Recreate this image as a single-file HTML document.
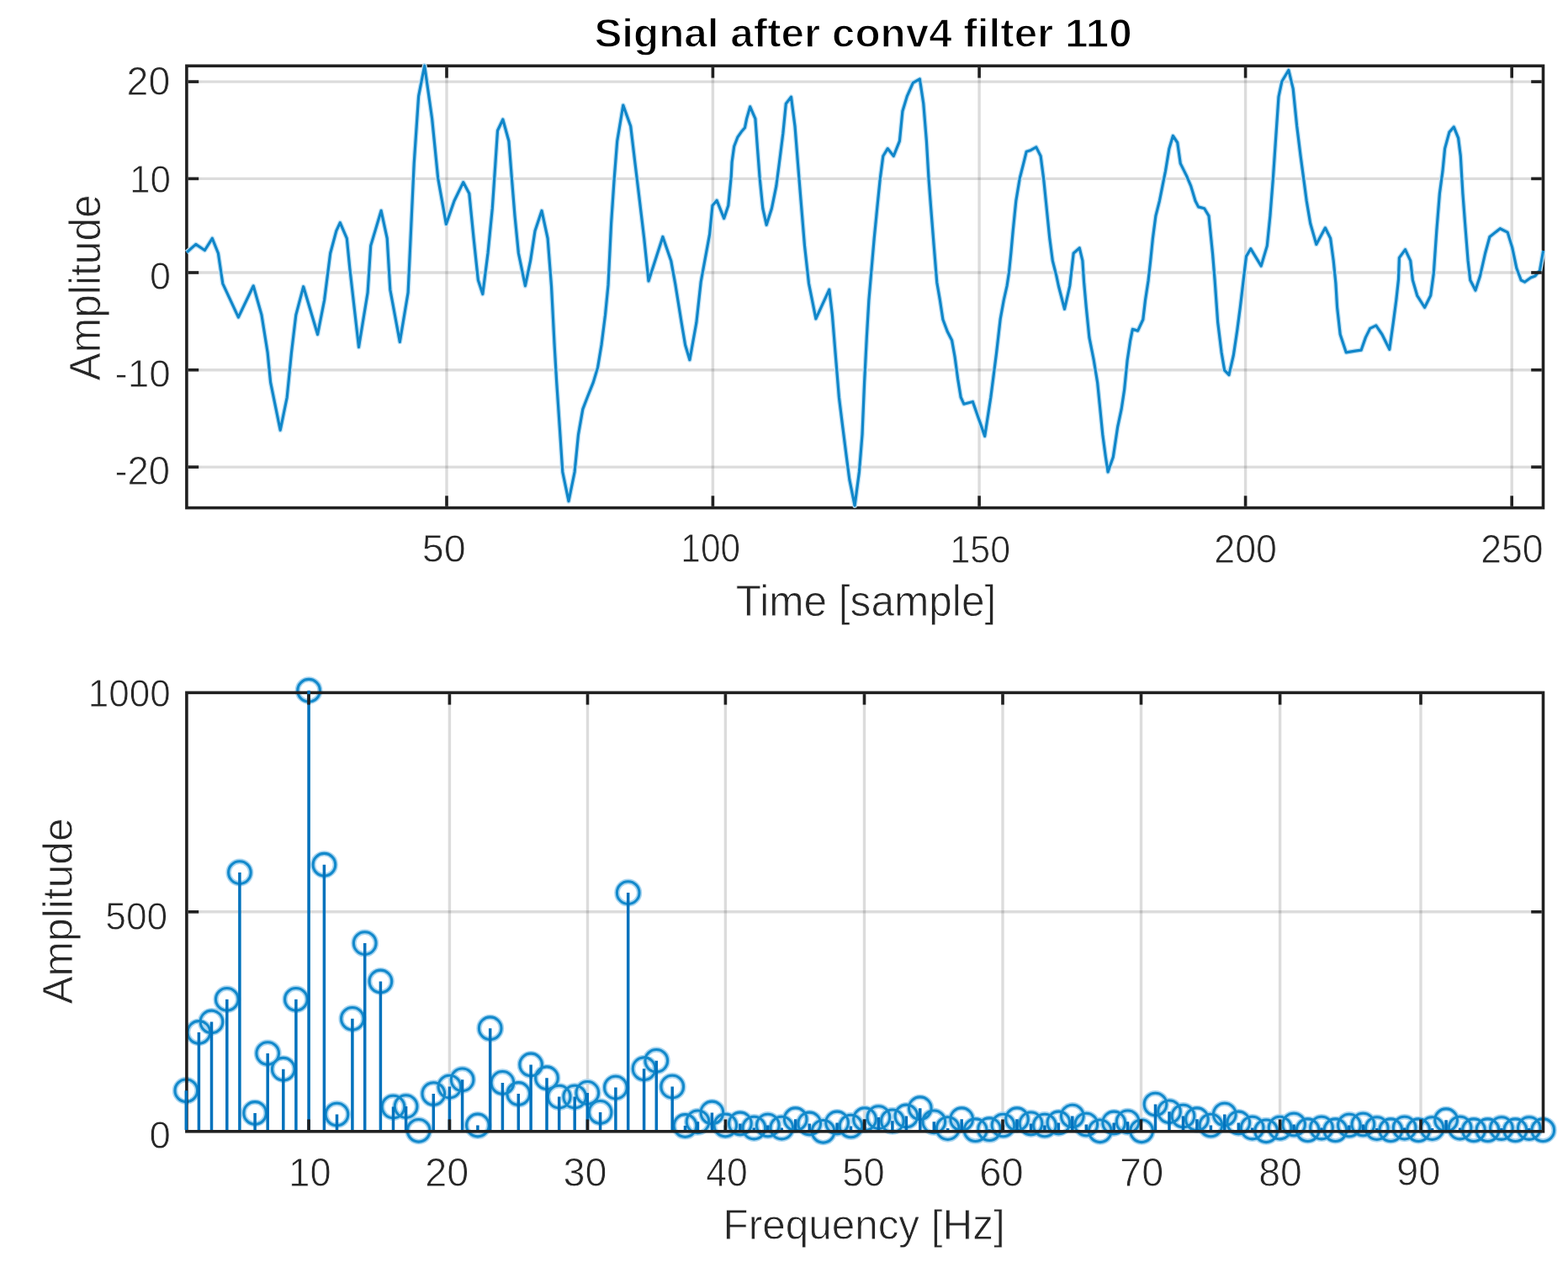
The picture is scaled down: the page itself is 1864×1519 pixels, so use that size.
<!DOCTYPE html>
<html><head><meta charset="utf-8"><title>Signal after conv4 filter 110</title>
<style>html,body{margin:0;padding:0;background:#fff;}svg{display:block;}</style>
</head><body>
<svg width="1864" height="1519" viewBox="0 0 1864 1519">
<rect width="1864" height="1519" fill="#ffffff"/>
<line x1="531.0" y1="78.3" x2="531.0" y2="603.6" stroke="#262626" stroke-opacity="0.16" stroke-width="3.4"/>
<line x1="847.4" y1="78.3" x2="847.4" y2="603.6" stroke="#262626" stroke-opacity="0.16" stroke-width="3.4"/>
<line x1="1164.1" y1="78.3" x2="1164.1" y2="603.6" stroke="#262626" stroke-opacity="0.16" stroke-width="3.4"/>
<line x1="1480.6" y1="78.3" x2="1480.6" y2="603.6" stroke="#262626" stroke-opacity="0.16" stroke-width="3.4"/>
<line x1="1797.2" y1="78.3" x2="1797.2" y2="603.6" stroke="#262626" stroke-opacity="0.16" stroke-width="3.4"/>
<line x1="221.9" y1="97.1" x2="1834.5" y2="97.1" stroke="#262626" stroke-opacity="0.16" stroke-width="3.4"/>
<line x1="221.9" y1="212.4" x2="1834.5" y2="212.4" stroke="#262626" stroke-opacity="0.16" stroke-width="3.4"/>
<line x1="221.9" y1="324.0" x2="1834.5" y2="324.0" stroke="#262626" stroke-opacity="0.16" stroke-width="3.4"/>
<line x1="221.9" y1="439.7" x2="1834.5" y2="439.7" stroke="#262626" stroke-opacity="0.16" stroke-width="3.4"/>
<line x1="221.9" y1="555.1" x2="1834.5" y2="555.1" stroke="#262626" stroke-opacity="0.16" stroke-width="3.4"/>
<rect x="221.9" y="78.3" width="1612.6" height="525.3" fill="none" stroke="#202020" stroke-width="3.6"/>
<polyline points="221.9,300.0 232.8,290.4 243.4,297.5 252.3,283.3 259.4,301.0 264.8,337.1 283.4,377.1 301.2,339.8 311.0,374.4 318.1,418.9 321.6,454.4 333.2,511.3 341.2,472.2 346.5,418.9 351.8,374.4 360.7,340.7 377.6,397.5 385.6,356.7 392.7,301.0 399.8,274.4 404.3,264.6 412.3,283.3 415.8,318.8 426.5,412.6 437.1,347.8 440.7,292.1 453.1,250.4 460.2,283.3 463.8,344.2 475.3,406.4 485.1,347.8 492.2,194.4 497.6,114.4 504.7,78.0 513.6,141.0 520.7,212.0 530.4,266.4 540.0,238.8 550.7,216.6 557.8,230.0 563.1,283.3 568.4,333.0 573.8,349.5 580.0,301.0 585.3,247.7 588.9,194.4 591.5,155.3 597.8,142.0 604.9,167.7 608.4,212.2 612.0,256.6 616.4,301.0 624.4,339.8 630.6,309.9 636.0,274.4 644.0,250.4 651.1,283.3 655.5,340.0 659.1,410.0 661.7,454.4 665.3,507.7 668.8,561.0 676.0,595.7 683.1,561.0 687.5,516.6 692.8,486.4 698.2,472.2 705.3,454.4 710.6,436.6 715.0,410.0 719.5,374.4 723.0,338.9 726.6,265.5 730.2,212.2 733.7,167.7 740.8,125.1 749.7,150.0 755.0,194.4 760.4,238.8 765.7,283.3 771.0,334.0 787.9,281.5 797.7,309.9 803.0,338.9 810.1,383.3 814.6,410.0 819.9,427.7 827.9,383.3 833.2,335.0 843.6,278.4 847.0,244.2 852.1,238.2 855.5,246.7 860.7,259.6 865.8,244.2 867.5,227.0 869.2,210.0 870.1,192.8 872.7,174.0 877.0,162.8 881.2,156.8 885.5,151.7 887.6,141.1 891.7,126.9 897.9,141.1 900.5,176.6 903.2,212.2 906.8,247.7 911.2,267.3 917.4,247.7 922.8,221.1 926.3,194.4 930.8,158.9 934.3,123.3 940.5,115.3 945.0,150.0 948.5,194.4 952.1,238.8 956.5,292.1 961.5,337.0 969.9,378.9 985.8,344.2 989.4,374.4 993.0,418.9 997.4,472.2 1001.8,507.7 1006.3,543.3 1009.8,569.9 1016.1,601.0 1021.4,561.0 1025.0,516.6 1027.6,454.4 1030.3,401.1 1032.9,356.7 1039.2,283.3 1042.7,247.7 1046.3,212.2 1049.8,185.5 1055.2,176.6 1062.3,185.5 1069.4,167.7 1072.9,132.2 1078.3,114.4 1085.4,98.4 1093.4,94.0 1097.8,123.3 1101.4,167.7 1104.0,212.2 1106.7,247.7 1110.2,292.1 1113.8,336.0 1117.4,356.7 1120.9,379.8 1126.2,394.0 1131.6,404.6 1135.1,424.2 1138.7,450.8 1142.2,472.2 1145.8,480.2 1156.4,477.5 1170.7,518.4 1177.8,472.2 1184.5,420.0 1189.2,379.0 1193.2,357.0 1197.1,339.5 1199.5,323.7 1201.9,300.0 1204.2,274.4 1207.8,238.8 1212.2,212.2 1216.7,194.4 1220.2,180.2 1225.5,178.4 1231.8,174.9 1237.1,185.5 1240.6,212.2 1244.2,247.7 1247.8,283.3 1251.3,309.9 1255.8,327.7 1258.4,340.0 1265.5,367.3 1271.7,340.0 1276.2,301.0 1283.3,294.8 1286.9,309.9 1288.6,335.3 1291.3,365.5 1294.9,401.1 1300.2,427.7 1304.6,454.4 1307.3,481.1 1310.8,516.6 1314.4,543.3 1317.1,561.0 1323.3,543.3 1328.6,507.7 1333.1,486.4 1336.6,463.3 1340.2,427.7 1343.7,404.6 1346.4,391.3 1352.6,393.1 1358.8,379.8 1361.5,356.7 1365.0,334.0 1367.7,309.9 1370.4,283.3 1373.9,256.6 1378.4,238.8 1381.9,221.1 1385.5,203.3 1389.9,176.6 1394.4,161.5 1399.7,169.5 1403.3,194.4 1410.4,208.6 1415.7,221.1 1421.0,238.8 1424.6,245.9 1431.7,247.7 1437.0,256.6 1438.8,274.4 1441.5,301.0 1444.1,333.0 1447.7,383.3 1452.1,418.9 1455.7,440.2 1461.0,445.5 1466.3,422.4 1470.8,392.2 1474.3,365.5 1478.3,332.0 1481.5,304.6 1486.8,295.7 1499.2,316.1 1506.3,292.1 1509.9,256.6 1513.4,212.2 1517.0,158.9 1520.0,115.0 1523.9,96.7 1531.9,83.3 1537.2,105.5 1541.7,150.0 1546.1,185.5 1549.7,212.2 1553.2,238.8 1557.7,265.5 1564.8,290.4 1575.4,270.8 1581.6,283.3 1585.2,309.9 1587.9,336.6 1589.6,365.5 1593.2,397.5 1600.3,418.9 1611.0,417.1 1618.1,416.2 1623.4,401.1 1628.7,390.4 1635.8,386.9 1643.0,397.5 1648.3,408.2 1651.8,415.3 1656.3,383.3 1659.8,356.7 1662.5,332.0 1663.4,306.4 1670.5,296.6 1676.7,309.9 1679.4,333.0 1684.7,351.3 1693.6,365.5 1700.7,351.3 1704.3,325.0 1707.8,274.4 1711.4,230.0 1715.0,203.3 1717.6,176.6 1722.9,157.1 1728.3,150.9 1733.6,164.2 1736.3,185.5 1738.9,230.0 1741.6,265.5 1745.1,309.9 1747.8,333.0 1754.0,345.1 1759.5,328.0 1765.6,301.0 1770.9,281.5 1783.3,271.7 1792.2,276.1 1797.6,293.9 1802.9,318.8 1808.2,333.0 1812.5,335.2 1819.7,330.0 1825.0,327.9 1830.5,321.5 1834.6,298.0" fill="none" stroke="#bfe1f4" stroke-width="5.8" stroke-linejoin="round" stroke-linecap="butt"/>
<polyline points="221.9,300.0 232.8,290.4 243.4,297.5 252.3,283.3 259.4,301.0 264.8,337.1 283.4,377.1 301.2,339.8 311.0,374.4 318.1,418.9 321.6,454.4 333.2,511.3 341.2,472.2 346.5,418.9 351.8,374.4 360.7,340.7 377.6,397.5 385.6,356.7 392.7,301.0 399.8,274.4 404.3,264.6 412.3,283.3 415.8,318.8 426.5,412.6 437.1,347.8 440.7,292.1 453.1,250.4 460.2,283.3 463.8,344.2 475.3,406.4 485.1,347.8 492.2,194.4 497.6,114.4 504.7,78.0 513.6,141.0 520.7,212.0 530.4,266.4 540.0,238.8 550.7,216.6 557.8,230.0 563.1,283.3 568.4,333.0 573.8,349.5 580.0,301.0 585.3,247.7 588.9,194.4 591.5,155.3 597.8,142.0 604.9,167.7 608.4,212.2 612.0,256.6 616.4,301.0 624.4,339.8 630.6,309.9 636.0,274.4 644.0,250.4 651.1,283.3 655.5,340.0 659.1,410.0 661.7,454.4 665.3,507.7 668.8,561.0 676.0,595.7 683.1,561.0 687.5,516.6 692.8,486.4 698.2,472.2 705.3,454.4 710.6,436.6 715.0,410.0 719.5,374.4 723.0,338.9 726.6,265.5 730.2,212.2 733.7,167.7 740.8,125.1 749.7,150.0 755.0,194.4 760.4,238.8 765.7,283.3 771.0,334.0 787.9,281.5 797.7,309.9 803.0,338.9 810.1,383.3 814.6,410.0 819.9,427.7 827.9,383.3 833.2,335.0 843.6,278.4 847.0,244.2 852.1,238.2 855.5,246.7 860.7,259.6 865.8,244.2 867.5,227.0 869.2,210.0 870.1,192.8 872.7,174.0 877.0,162.8 881.2,156.8 885.5,151.7 887.6,141.1 891.7,126.9 897.9,141.1 900.5,176.6 903.2,212.2 906.8,247.7 911.2,267.3 917.4,247.7 922.8,221.1 926.3,194.4 930.8,158.9 934.3,123.3 940.5,115.3 945.0,150.0 948.5,194.4 952.1,238.8 956.5,292.1 961.5,337.0 969.9,378.9 985.8,344.2 989.4,374.4 993.0,418.9 997.4,472.2 1001.8,507.7 1006.3,543.3 1009.8,569.9 1016.1,601.0 1021.4,561.0 1025.0,516.6 1027.6,454.4 1030.3,401.1 1032.9,356.7 1039.2,283.3 1042.7,247.7 1046.3,212.2 1049.8,185.5 1055.2,176.6 1062.3,185.5 1069.4,167.7 1072.9,132.2 1078.3,114.4 1085.4,98.4 1093.4,94.0 1097.8,123.3 1101.4,167.7 1104.0,212.2 1106.7,247.7 1110.2,292.1 1113.8,336.0 1117.4,356.7 1120.9,379.8 1126.2,394.0 1131.6,404.6 1135.1,424.2 1138.7,450.8 1142.2,472.2 1145.8,480.2 1156.4,477.5 1170.7,518.4 1177.8,472.2 1184.5,420.0 1189.2,379.0 1193.2,357.0 1197.1,339.5 1199.5,323.7 1201.9,300.0 1204.2,274.4 1207.8,238.8 1212.2,212.2 1216.7,194.4 1220.2,180.2 1225.5,178.4 1231.8,174.9 1237.1,185.5 1240.6,212.2 1244.2,247.7 1247.8,283.3 1251.3,309.9 1255.8,327.7 1258.4,340.0 1265.5,367.3 1271.7,340.0 1276.2,301.0 1283.3,294.8 1286.9,309.9 1288.6,335.3 1291.3,365.5 1294.9,401.1 1300.2,427.7 1304.6,454.4 1307.3,481.1 1310.8,516.6 1314.4,543.3 1317.1,561.0 1323.3,543.3 1328.6,507.7 1333.1,486.4 1336.6,463.3 1340.2,427.7 1343.7,404.6 1346.4,391.3 1352.6,393.1 1358.8,379.8 1361.5,356.7 1365.0,334.0 1367.7,309.9 1370.4,283.3 1373.9,256.6 1378.4,238.8 1381.9,221.1 1385.5,203.3 1389.9,176.6 1394.4,161.5 1399.7,169.5 1403.3,194.4 1410.4,208.6 1415.7,221.1 1421.0,238.8 1424.6,245.9 1431.7,247.7 1437.0,256.6 1438.8,274.4 1441.5,301.0 1444.1,333.0 1447.7,383.3 1452.1,418.9 1455.7,440.2 1461.0,445.5 1466.3,422.4 1470.8,392.2 1474.3,365.5 1478.3,332.0 1481.5,304.6 1486.8,295.7 1499.2,316.1 1506.3,292.1 1509.9,256.6 1513.4,212.2 1517.0,158.9 1520.0,115.0 1523.9,96.7 1531.9,83.3 1537.2,105.5 1541.7,150.0 1546.1,185.5 1549.7,212.2 1553.2,238.8 1557.7,265.5 1564.8,290.4 1575.4,270.8 1581.6,283.3 1585.2,309.9 1587.9,336.6 1589.6,365.5 1593.2,397.5 1600.3,418.9 1611.0,417.1 1618.1,416.2 1623.4,401.1 1628.7,390.4 1635.8,386.9 1643.0,397.5 1648.3,408.2 1651.8,415.3 1656.3,383.3 1659.8,356.7 1662.5,332.0 1663.4,306.4 1670.5,296.6 1676.7,309.9 1679.4,333.0 1684.7,351.3 1693.6,365.5 1700.7,351.3 1704.3,325.0 1707.8,274.4 1711.4,230.0 1715.0,203.3 1717.6,176.6 1722.9,157.1 1728.3,150.9 1733.6,164.2 1736.3,185.5 1738.9,230.0 1741.6,265.5 1745.1,309.9 1747.8,333.0 1754.0,345.1 1759.5,328.0 1765.6,301.0 1770.9,281.5 1783.3,271.7 1792.2,276.1 1797.6,293.9 1802.9,318.8 1808.2,333.0 1812.5,335.2 1819.7,330.0 1825.0,327.9 1830.5,321.5 1834.6,298.0" fill="none" stroke="#1086c9" stroke-width="3.2" stroke-linejoin="round" stroke-linecap="butt"/>
<line x1="531.0" y1="601.8" x2="531.0" y2="589.3" stroke="#202020" stroke-width="3.6"/>
<line x1="531.0" y1="80.1" x2="531.0" y2="92.6" stroke="#202020" stroke-width="3.6"/>
<line x1="847.4" y1="601.8" x2="847.4" y2="589.3" stroke="#202020" stroke-width="3.6"/>
<line x1="847.4" y1="80.1" x2="847.4" y2="92.6" stroke="#202020" stroke-width="3.6"/>
<line x1="1164.1" y1="601.8" x2="1164.1" y2="589.3" stroke="#202020" stroke-width="3.6"/>
<line x1="1164.1" y1="80.1" x2="1164.1" y2="92.6" stroke="#202020" stroke-width="3.6"/>
<line x1="1480.6" y1="601.8" x2="1480.6" y2="589.3" stroke="#202020" stroke-width="3.6"/>
<line x1="1480.6" y1="80.1" x2="1480.6" y2="92.6" stroke="#202020" stroke-width="3.6"/>
<line x1="1797.2" y1="601.8" x2="1797.2" y2="589.3" stroke="#202020" stroke-width="3.6"/>
<line x1="1797.2" y1="80.1" x2="1797.2" y2="92.6" stroke="#202020" stroke-width="3.6"/>
<line x1="223.7" y1="97.1" x2="236.2" y2="97.1" stroke="#202020" stroke-width="3.6"/>
<line x1="1832.7" y1="97.1" x2="1820.2" y2="97.1" stroke="#202020" stroke-width="3.6"/>
<line x1="223.7" y1="212.4" x2="236.2" y2="212.4" stroke="#202020" stroke-width="3.6"/>
<line x1="1832.7" y1="212.4" x2="1820.2" y2="212.4" stroke="#202020" stroke-width="3.6"/>
<line x1="223.7" y1="324.0" x2="236.2" y2="324.0" stroke="#202020" stroke-width="3.6"/>
<line x1="1832.7" y1="324.0" x2="1820.2" y2="324.0" stroke="#202020" stroke-width="3.6"/>
<line x1="223.7" y1="439.7" x2="236.2" y2="439.7" stroke="#202020" stroke-width="3.6"/>
<line x1="1832.7" y1="439.7" x2="1820.2" y2="439.7" stroke="#202020" stroke-width="3.6"/>
<line x1="223.7" y1="555.1" x2="236.2" y2="555.1" stroke="#202020" stroke-width="3.6"/>
<line x1="1832.7" y1="555.1" x2="1820.2" y2="555.1" stroke="#202020" stroke-width="3.6"/>
<line x1="367.0" y1="823.3" x2="367.0" y2="1344.8" stroke="#262626" stroke-opacity="0.16" stroke-width="3.4"/>
<line x1="534.4" y1="823.3" x2="534.4" y2="1344.8" stroke="#262626" stroke-opacity="0.16" stroke-width="3.4"/>
<line x1="698.5" y1="823.3" x2="698.5" y2="1344.8" stroke="#262626" stroke-opacity="0.16" stroke-width="3.4"/>
<line x1="862.4" y1="823.3" x2="862.4" y2="1344.8" stroke="#262626" stroke-opacity="0.16" stroke-width="3.4"/>
<line x1="1027.5" y1="823.3" x2="1027.5" y2="1344.8" stroke="#262626" stroke-opacity="0.16" stroke-width="3.4"/>
<line x1="1192.0" y1="823.3" x2="1192.0" y2="1344.8" stroke="#262626" stroke-opacity="0.16" stroke-width="3.4"/>
<line x1="1356.5" y1="823.3" x2="1356.5" y2="1344.8" stroke="#262626" stroke-opacity="0.16" stroke-width="3.4"/>
<line x1="1521.6" y1="823.3" x2="1521.6" y2="1344.8" stroke="#262626" stroke-opacity="0.16" stroke-width="3.4"/>
<line x1="1689.0" y1="823.3" x2="1689.0" y2="1344.8" stroke="#262626" stroke-opacity="0.16" stroke-width="3.4"/>
<line x1="221.9" y1="1083.8" x2="1834.5" y2="1083.8" stroke="#262626" stroke-opacity="0.16" stroke-width="3.4"/>
<path d="M208.0 1296.3a13.3 13.3 0 1 0 26.6 0a13.3 13.3 0 1 0 -26.6 0M223.1 1226.9a13.3 13.3 0 1 0 26.6 0a13.3 13.3 0 1 0 -26.6 0M238.2 1214.4a13.3 13.3 0 1 0 26.6 0a13.3 13.3 0 1 0 -26.6 0M256.5 1187.8a13.3 13.3 0 1 0 26.6 0a13.3 13.3 0 1 0 -26.6 0M271.6 1037.1a13.3 13.3 0 1 0 26.6 0a13.3 13.3 0 1 0 -26.6 0M289.8 1322.9a13.3 13.3 0 1 0 26.6 0a13.3 13.3 0 1 0 -26.6 0M304.9 1252.0a13.3 13.3 0 1 0 26.6 0a13.3 13.3 0 1 0 -26.6 0M323.5 1270.7a13.3 13.3 0 1 0 26.6 0a13.3 13.3 0 1 0 -26.6 0M338.6 1187.8a13.3 13.3 0 1 0 26.6 0a13.3 13.3 0 1 0 -26.6 0M353.8 820.7a13.3 13.3 0 1 0 26.6 0a13.3 13.3 0 1 0 -26.6 0M372.1 1027.7a13.3 13.3 0 1 0 26.6 0a13.3 13.3 0 1 0 -26.6 0M387.2 1324.5a13.3 13.3 0 1 0 26.6 0a13.3 13.3 0 1 0 -26.6 0M405.6 1210.8a13.3 13.3 0 1 0 26.6 0a13.3 13.3 0 1 0 -26.6 0M420.4 1121.1a13.3 13.3 0 1 0 26.6 0a13.3 13.3 0 1 0 -26.6 0M439.1 1166.4a13.3 13.3 0 1 0 26.6 0a13.3 13.3 0 1 0 -26.6 0M454.2 1315.6a13.3 13.3 0 1 0 26.6 0a13.3 13.3 0 1 0 -26.6 0M469.3 1315.1a13.3 13.3 0 1 0 26.6 0a13.3 13.3 0 1 0 -26.6 0M484.4 1343.8a13.3 13.3 0 1 0 26.6 0a13.3 13.3 0 1 0 -26.6 0M502.0 1300.0a13.3 13.3 0 1 0 26.6 0a13.3 13.3 0 1 0 -26.6 0M521.1 1291.6a13.3 13.3 0 1 0 26.6 0a13.3 13.3 0 1 0 -26.6 0M536.3 1283.3a13.3 13.3 0 1 0 26.6 0a13.3 13.3 0 1 0 -26.6 0M554.6 1337.5a13.3 13.3 0 1 0 26.6 0a13.3 13.3 0 1 0 -26.6 0M569.4 1222.2a13.3 13.3 0 1 0 26.6 0a13.3 13.3 0 1 0 -26.6 0M584.1 1286.9a13.3 13.3 0 1 0 26.6 0a13.3 13.3 0 1 0 -26.6 0M603.0 1300.0a13.3 13.3 0 1 0 26.6 0a13.3 13.3 0 1 0 -26.6 0M617.8 1265.5a13.3 13.3 0 1 0 26.6 0a13.3 13.3 0 1 0 -26.6 0M636.7 1281.2a13.3 13.3 0 1 0 26.6 0a13.3 13.3 0 1 0 -26.6 0M651.4 1303.6a13.3 13.3 0 1 0 26.6 0a13.3 13.3 0 1 0 -26.6 0M669.9 1303.6a13.3 13.3 0 1 0 26.6 0a13.3 13.3 0 1 0 -26.6 0M685.0 1298.9a13.3 13.3 0 1 0 26.6 0a13.3 13.3 0 1 0 -26.6 0M700.3 1321.9a13.3 13.3 0 1 0 26.6 0a13.3 13.3 0 1 0 -26.6 0M718.6 1292.6a13.3 13.3 0 1 0 26.6 0a13.3 13.3 0 1 0 -26.6 0M733.4 1061.1a13.3 13.3 0 1 0 26.6 0a13.3 13.3 0 1 0 -26.6 0M752.3 1270.2a13.3 13.3 0 1 0 26.6 0a13.3 13.3 0 1 0 -26.6 0M767.0 1260.8a13.3 13.3 0 1 0 26.6 0a13.3 13.3 0 1 0 -26.6 0M785.9 1291.6a13.3 13.3 0 1 0 26.6 0a13.3 13.3 0 1 0 -26.6 0M801.2 1338.0a13.3 13.3 0 1 0 26.6 0a13.3 13.3 0 1 0 -26.6 0M816.2 1333.3a13.3 13.3 0 1 0 26.6 0a13.3 13.3 0 1 0 -26.6 0M833.1 1322.4a13.3 13.3 0 1 0 26.6 0a13.3 13.3 0 1 0 -26.6 0M849.0 1337.5a13.3 13.3 0 1 0 26.6 0a13.3 13.3 0 1 0 -26.6 0M866.6 1335.4a13.3 13.3 0 1 0 26.6 0a13.3 13.3 0 1 0 -26.6 0M883.1 1340.6a13.3 13.3 0 1 0 26.6 0a13.3 13.3 0 1 0 -26.6 0M899.5 1337.5a13.3 13.3 0 1 0 26.6 0a13.3 13.3 0 1 0 -26.6 0M916.0 1340.6a13.3 13.3 0 1 0 26.6 0a13.3 13.3 0 1 0 -26.6 0M932.4 1330.2a13.3 13.3 0 1 0 26.6 0a13.3 13.3 0 1 0 -26.6 0M948.9 1335.4a13.3 13.3 0 1 0 26.6 0a13.3 13.3 0 1 0 -26.6 0M965.3 1344.8a13.3 13.3 0 1 0 26.6 0a13.3 13.3 0 1 0 -26.6 0M981.8 1334.4a13.3 13.3 0 1 0 26.6 0a13.3 13.3 0 1 0 -26.6 0M998.2 1338.5a13.3 13.3 0 1 0 26.6 0a13.3 13.3 0 1 0 -26.6 0M1014.7 1330.2a13.3 13.3 0 1 0 26.6 0a13.3 13.3 0 1 0 -26.6 0M1031.1 1328.1a13.3 13.3 0 1 0 26.6 0a13.3 13.3 0 1 0 -26.6 0M1047.6 1332.3a13.3 13.3 0 1 0 26.6 0a13.3 13.3 0 1 0 -26.6 0M1064.1 1326.5a13.3 13.3 0 1 0 26.6 0a13.3 13.3 0 1 0 -26.6 0M1080.5 1317.2a13.3 13.3 0 1 0 26.6 0a13.3 13.3 0 1 0 -26.6 0M1097.0 1333.3a13.3 13.3 0 1 0 26.6 0a13.3 13.3 0 1 0 -26.6 0M1113.4 1341.1a13.3 13.3 0 1 0 26.6 0a13.3 13.3 0 1 0 -26.6 0M1129.9 1330.2a13.3 13.3 0 1 0 26.6 0a13.3 13.3 0 1 0 -26.6 0M1146.3 1343.2a13.3 13.3 0 1 0 26.6 0a13.3 13.3 0 1 0 -26.6 0M1162.8 1342.2a13.3 13.3 0 1 0 26.6 0a13.3 13.3 0 1 0 -26.6 0M1179.2 1337.5a13.3 13.3 0 1 0 26.6 0a13.3 13.3 0 1 0 -26.6 0M1195.7 1330.2a13.3 13.3 0 1 0 26.6 0a13.3 13.3 0 1 0 -26.6 0M1212.2 1335.4a13.3 13.3 0 1 0 26.6 0a13.3 13.3 0 1 0 -26.6 0M1228.6 1337.5a13.3 13.3 0 1 0 26.6 0a13.3 13.3 0 1 0 -26.6 0M1245.1 1334.4a13.3 13.3 0 1 0 26.6 0a13.3 13.3 0 1 0 -26.6 0M1261.5 1326.5a13.3 13.3 0 1 0 26.6 0a13.3 13.3 0 1 0 -26.6 0M1278.0 1336.5a13.3 13.3 0 1 0 26.6 0a13.3 13.3 0 1 0 -26.6 0M1294.4 1344.3a13.3 13.3 0 1 0 26.6 0a13.3 13.3 0 1 0 -26.6 0M1310.9 1334.4a13.3 13.3 0 1 0 26.6 0a13.3 13.3 0 1 0 -26.6 0M1327.3 1333.3a13.3 13.3 0 1 0 26.6 0a13.3 13.3 0 1 0 -26.6 0M1343.8 1344.3a13.3 13.3 0 1 0 26.6 0a13.3 13.3 0 1 0 -26.6 0M1360.2 1312.5a13.3 13.3 0 1 0 26.6 0a13.3 13.3 0 1 0 -26.6 0M1376.7 1321.3a13.3 13.3 0 1 0 26.6 0a13.3 13.3 0 1 0 -26.6 0M1393.2 1326.5a13.3 13.3 0 1 0 26.6 0a13.3 13.3 0 1 0 -26.6 0M1409.6 1330.2a13.3 13.3 0 1 0 26.6 0a13.3 13.3 0 1 0 -26.6 0M1426.1 1337.5a13.3 13.3 0 1 0 26.6 0a13.3 13.3 0 1 0 -26.6 0M1442.5 1324.5a13.3 13.3 0 1 0 26.6 0a13.3 13.3 0 1 0 -26.6 0M1459.0 1334.4a13.3 13.3 0 1 0 26.6 0a13.3 13.3 0 1 0 -26.6 0M1475.4 1340.6a13.3 13.3 0 1 0 26.6 0a13.3 13.3 0 1 0 -26.6 0M1491.9 1344.3a13.3 13.3 0 1 0 26.6 0a13.3 13.3 0 1 0 -26.6 0M1508.3 1340.6a13.3 13.3 0 1 0 26.6 0a13.3 13.3 0 1 0 -26.6 0M1524.8 1336.5a13.3 13.3 0 1 0 26.6 0a13.3 13.3 0 1 0 -26.6 0M1541.3 1343.2a13.3 13.3 0 1 0 26.6 0a13.3 13.3 0 1 0 -26.6 0M1557.7 1340.6a13.3 13.3 0 1 0 26.6 0a13.3 13.3 0 1 0 -26.6 0M1574.2 1343.2a13.3 13.3 0 1 0 26.6 0a13.3 13.3 0 1 0 -26.6 0M1590.6 1337.5a13.3 13.3 0 1 0 26.6 0a13.3 13.3 0 1 0 -26.6 0M1607.1 1336.5a13.3 13.3 0 1 0 26.6 0a13.3 13.3 0 1 0 -26.6 0M1623.5 1341.1a13.3 13.3 0 1 0 26.6 0a13.3 13.3 0 1 0 -26.6 0M1640.0 1343.2a13.3 13.3 0 1 0 26.6 0a13.3 13.3 0 1 0 -26.6 0M1656.4 1340.6a13.3 13.3 0 1 0 26.6 0a13.3 13.3 0 1 0 -26.6 0M1672.9 1343.2a13.3 13.3 0 1 0 26.6 0a13.3 13.3 0 1 0 -26.6 0M1689.3 1341.1a13.3 13.3 0 1 0 26.6 0a13.3 13.3 0 1 0 -26.6 0M1705.8 1331.2a13.3 13.3 0 1 0 26.6 0a13.3 13.3 0 1 0 -26.6 0M1722.3 1340.6a13.3 13.3 0 1 0 26.6 0a13.3 13.3 0 1 0 -26.6 0M1738.7 1343.2a13.3 13.3 0 1 0 26.6 0a13.3 13.3 0 1 0 -26.6 0M1755.2 1343.2a13.3 13.3 0 1 0 26.6 0a13.3 13.3 0 1 0 -26.6 0M1771.6 1341.1a13.3 13.3 0 1 0 26.6 0a13.3 13.3 0 1 0 -26.6 0M1788.1 1343.2a13.3 13.3 0 1 0 26.6 0a13.3 13.3 0 1 0 -26.6 0M1804.5 1341.1a13.3 13.3 0 1 0 26.6 0a13.3 13.3 0 1 0 -26.6 0M1821.0 1343.2a13.3 13.3 0 1 0 26.6 0a13.3 13.3 0 1 0 -26.6 0" stroke="#a8d5f0" stroke-width="6.4" fill="none"/>
<path d="M208.0 1296.3a13.3 13.3 0 1 0 26.6 0a13.3 13.3 0 1 0 -26.6 0M223.1 1226.9a13.3 13.3 0 1 0 26.6 0a13.3 13.3 0 1 0 -26.6 0M238.2 1214.4a13.3 13.3 0 1 0 26.6 0a13.3 13.3 0 1 0 -26.6 0M256.5 1187.8a13.3 13.3 0 1 0 26.6 0a13.3 13.3 0 1 0 -26.6 0M271.6 1037.1a13.3 13.3 0 1 0 26.6 0a13.3 13.3 0 1 0 -26.6 0M289.8 1322.9a13.3 13.3 0 1 0 26.6 0a13.3 13.3 0 1 0 -26.6 0M304.9 1252.0a13.3 13.3 0 1 0 26.6 0a13.3 13.3 0 1 0 -26.6 0M323.5 1270.7a13.3 13.3 0 1 0 26.6 0a13.3 13.3 0 1 0 -26.6 0M338.6 1187.8a13.3 13.3 0 1 0 26.6 0a13.3 13.3 0 1 0 -26.6 0M353.8 820.7a13.3 13.3 0 1 0 26.6 0a13.3 13.3 0 1 0 -26.6 0M372.1 1027.7a13.3 13.3 0 1 0 26.6 0a13.3 13.3 0 1 0 -26.6 0M387.2 1324.5a13.3 13.3 0 1 0 26.6 0a13.3 13.3 0 1 0 -26.6 0M405.6 1210.8a13.3 13.3 0 1 0 26.6 0a13.3 13.3 0 1 0 -26.6 0M420.4 1121.1a13.3 13.3 0 1 0 26.6 0a13.3 13.3 0 1 0 -26.6 0M439.1 1166.4a13.3 13.3 0 1 0 26.6 0a13.3 13.3 0 1 0 -26.6 0M454.2 1315.6a13.3 13.3 0 1 0 26.6 0a13.3 13.3 0 1 0 -26.6 0M469.3 1315.1a13.3 13.3 0 1 0 26.6 0a13.3 13.3 0 1 0 -26.6 0M484.4 1343.8a13.3 13.3 0 1 0 26.6 0a13.3 13.3 0 1 0 -26.6 0M502.0 1300.0a13.3 13.3 0 1 0 26.6 0a13.3 13.3 0 1 0 -26.6 0M521.1 1291.6a13.3 13.3 0 1 0 26.6 0a13.3 13.3 0 1 0 -26.6 0M536.3 1283.3a13.3 13.3 0 1 0 26.6 0a13.3 13.3 0 1 0 -26.6 0M554.6 1337.5a13.3 13.3 0 1 0 26.6 0a13.3 13.3 0 1 0 -26.6 0M569.4 1222.2a13.3 13.3 0 1 0 26.6 0a13.3 13.3 0 1 0 -26.6 0M584.1 1286.9a13.3 13.3 0 1 0 26.6 0a13.3 13.3 0 1 0 -26.6 0M603.0 1300.0a13.3 13.3 0 1 0 26.6 0a13.3 13.3 0 1 0 -26.6 0M617.8 1265.5a13.3 13.3 0 1 0 26.6 0a13.3 13.3 0 1 0 -26.6 0M636.7 1281.2a13.3 13.3 0 1 0 26.6 0a13.3 13.3 0 1 0 -26.6 0M651.4 1303.6a13.3 13.3 0 1 0 26.6 0a13.3 13.3 0 1 0 -26.6 0M669.9 1303.6a13.3 13.3 0 1 0 26.6 0a13.3 13.3 0 1 0 -26.6 0M685.0 1298.9a13.3 13.3 0 1 0 26.6 0a13.3 13.3 0 1 0 -26.6 0M700.3 1321.9a13.3 13.3 0 1 0 26.6 0a13.3 13.3 0 1 0 -26.6 0M718.6 1292.6a13.3 13.3 0 1 0 26.6 0a13.3 13.3 0 1 0 -26.6 0M733.4 1061.1a13.3 13.3 0 1 0 26.6 0a13.3 13.3 0 1 0 -26.6 0M752.3 1270.2a13.3 13.3 0 1 0 26.6 0a13.3 13.3 0 1 0 -26.6 0M767.0 1260.8a13.3 13.3 0 1 0 26.6 0a13.3 13.3 0 1 0 -26.6 0M785.9 1291.6a13.3 13.3 0 1 0 26.6 0a13.3 13.3 0 1 0 -26.6 0M801.2 1338.0a13.3 13.3 0 1 0 26.6 0a13.3 13.3 0 1 0 -26.6 0M816.2 1333.3a13.3 13.3 0 1 0 26.6 0a13.3 13.3 0 1 0 -26.6 0M833.1 1322.4a13.3 13.3 0 1 0 26.6 0a13.3 13.3 0 1 0 -26.6 0M849.0 1337.5a13.3 13.3 0 1 0 26.6 0a13.3 13.3 0 1 0 -26.6 0M866.6 1335.4a13.3 13.3 0 1 0 26.6 0a13.3 13.3 0 1 0 -26.6 0M883.1 1340.6a13.3 13.3 0 1 0 26.6 0a13.3 13.3 0 1 0 -26.6 0M899.5 1337.5a13.3 13.3 0 1 0 26.6 0a13.3 13.3 0 1 0 -26.6 0M916.0 1340.6a13.3 13.3 0 1 0 26.6 0a13.3 13.3 0 1 0 -26.6 0M932.4 1330.2a13.3 13.3 0 1 0 26.6 0a13.3 13.3 0 1 0 -26.6 0M948.9 1335.4a13.3 13.3 0 1 0 26.6 0a13.3 13.3 0 1 0 -26.6 0M965.3 1344.8a13.3 13.3 0 1 0 26.6 0a13.3 13.3 0 1 0 -26.6 0M981.8 1334.4a13.3 13.3 0 1 0 26.6 0a13.3 13.3 0 1 0 -26.6 0M998.2 1338.5a13.3 13.3 0 1 0 26.6 0a13.3 13.3 0 1 0 -26.6 0M1014.7 1330.2a13.3 13.3 0 1 0 26.6 0a13.3 13.3 0 1 0 -26.6 0M1031.1 1328.1a13.3 13.3 0 1 0 26.6 0a13.3 13.3 0 1 0 -26.6 0M1047.6 1332.3a13.3 13.3 0 1 0 26.6 0a13.3 13.3 0 1 0 -26.6 0M1064.1 1326.5a13.3 13.3 0 1 0 26.6 0a13.3 13.3 0 1 0 -26.6 0M1080.5 1317.2a13.3 13.3 0 1 0 26.6 0a13.3 13.3 0 1 0 -26.6 0M1097.0 1333.3a13.3 13.3 0 1 0 26.6 0a13.3 13.3 0 1 0 -26.6 0M1113.4 1341.1a13.3 13.3 0 1 0 26.6 0a13.3 13.3 0 1 0 -26.6 0M1129.9 1330.2a13.3 13.3 0 1 0 26.6 0a13.3 13.3 0 1 0 -26.6 0M1146.3 1343.2a13.3 13.3 0 1 0 26.6 0a13.3 13.3 0 1 0 -26.6 0M1162.8 1342.2a13.3 13.3 0 1 0 26.6 0a13.3 13.3 0 1 0 -26.6 0M1179.2 1337.5a13.3 13.3 0 1 0 26.6 0a13.3 13.3 0 1 0 -26.6 0M1195.7 1330.2a13.3 13.3 0 1 0 26.6 0a13.3 13.3 0 1 0 -26.6 0M1212.2 1335.4a13.3 13.3 0 1 0 26.6 0a13.3 13.3 0 1 0 -26.6 0M1228.6 1337.5a13.3 13.3 0 1 0 26.6 0a13.3 13.3 0 1 0 -26.6 0M1245.1 1334.4a13.3 13.3 0 1 0 26.6 0a13.3 13.3 0 1 0 -26.6 0M1261.5 1326.5a13.3 13.3 0 1 0 26.6 0a13.3 13.3 0 1 0 -26.6 0M1278.0 1336.5a13.3 13.3 0 1 0 26.6 0a13.3 13.3 0 1 0 -26.6 0M1294.4 1344.3a13.3 13.3 0 1 0 26.6 0a13.3 13.3 0 1 0 -26.6 0M1310.9 1334.4a13.3 13.3 0 1 0 26.6 0a13.3 13.3 0 1 0 -26.6 0M1327.3 1333.3a13.3 13.3 0 1 0 26.6 0a13.3 13.3 0 1 0 -26.6 0M1343.8 1344.3a13.3 13.3 0 1 0 26.6 0a13.3 13.3 0 1 0 -26.6 0M1360.2 1312.5a13.3 13.3 0 1 0 26.6 0a13.3 13.3 0 1 0 -26.6 0M1376.7 1321.3a13.3 13.3 0 1 0 26.6 0a13.3 13.3 0 1 0 -26.6 0M1393.2 1326.5a13.3 13.3 0 1 0 26.6 0a13.3 13.3 0 1 0 -26.6 0M1409.6 1330.2a13.3 13.3 0 1 0 26.6 0a13.3 13.3 0 1 0 -26.6 0M1426.1 1337.5a13.3 13.3 0 1 0 26.6 0a13.3 13.3 0 1 0 -26.6 0M1442.5 1324.5a13.3 13.3 0 1 0 26.6 0a13.3 13.3 0 1 0 -26.6 0M1459.0 1334.4a13.3 13.3 0 1 0 26.6 0a13.3 13.3 0 1 0 -26.6 0M1475.4 1340.6a13.3 13.3 0 1 0 26.6 0a13.3 13.3 0 1 0 -26.6 0M1491.9 1344.3a13.3 13.3 0 1 0 26.6 0a13.3 13.3 0 1 0 -26.6 0M1508.3 1340.6a13.3 13.3 0 1 0 26.6 0a13.3 13.3 0 1 0 -26.6 0M1524.8 1336.5a13.3 13.3 0 1 0 26.6 0a13.3 13.3 0 1 0 -26.6 0M1541.3 1343.2a13.3 13.3 0 1 0 26.6 0a13.3 13.3 0 1 0 -26.6 0M1557.7 1340.6a13.3 13.3 0 1 0 26.6 0a13.3 13.3 0 1 0 -26.6 0M1574.2 1343.2a13.3 13.3 0 1 0 26.6 0a13.3 13.3 0 1 0 -26.6 0M1590.6 1337.5a13.3 13.3 0 1 0 26.6 0a13.3 13.3 0 1 0 -26.6 0M1607.1 1336.5a13.3 13.3 0 1 0 26.6 0a13.3 13.3 0 1 0 -26.6 0M1623.5 1341.1a13.3 13.3 0 1 0 26.6 0a13.3 13.3 0 1 0 -26.6 0M1640.0 1343.2a13.3 13.3 0 1 0 26.6 0a13.3 13.3 0 1 0 -26.6 0M1656.4 1340.6a13.3 13.3 0 1 0 26.6 0a13.3 13.3 0 1 0 -26.6 0M1672.9 1343.2a13.3 13.3 0 1 0 26.6 0a13.3 13.3 0 1 0 -26.6 0M1689.3 1341.1a13.3 13.3 0 1 0 26.6 0a13.3 13.3 0 1 0 -26.6 0M1705.8 1331.2a13.3 13.3 0 1 0 26.6 0a13.3 13.3 0 1 0 -26.6 0M1722.3 1340.6a13.3 13.3 0 1 0 26.6 0a13.3 13.3 0 1 0 -26.6 0M1738.7 1343.2a13.3 13.3 0 1 0 26.6 0a13.3 13.3 0 1 0 -26.6 0M1755.2 1343.2a13.3 13.3 0 1 0 26.6 0a13.3 13.3 0 1 0 -26.6 0M1771.6 1341.1a13.3 13.3 0 1 0 26.6 0a13.3 13.3 0 1 0 -26.6 0M1788.1 1343.2a13.3 13.3 0 1 0 26.6 0a13.3 13.3 0 1 0 -26.6 0M1804.5 1341.1a13.3 13.3 0 1 0 26.6 0a13.3 13.3 0 1 0 -26.6 0M1821.0 1343.2a13.3 13.3 0 1 0 26.6 0a13.3 13.3 0 1 0 -26.6 0" stroke="#1389cb" stroke-width="3.1" fill="none"/>
<rect x="221.9" y="823.3" width="1612.6" height="521.5" fill="none" stroke="#202020" stroke-width="3.6"/>
<path d="M221.3 1343.0V1296.3M236.4 1343.0V1226.9M251.5 1343.0V1214.4M269.8 1343.0V1187.8M284.9 1343.0V1037.1M303.1 1343.0V1322.9M318.2 1343.0V1252.0M336.8 1343.0V1270.7M351.9 1343.0V1187.8M367.1 1343.0V820.7M385.4 1343.0V1027.7M400.5 1343.0V1324.5M418.9 1343.0V1210.8M433.7 1343.0V1121.1M452.4 1343.0V1166.4M467.5 1343.0V1315.6M482.6 1343.0V1315.1M515.3 1343.0V1300.0M534.4 1343.0V1291.6M549.6 1343.0V1283.3M567.9 1343.0V1337.5M582.7 1343.0V1222.2M597.4 1343.0V1286.9M616.3 1343.0V1300.0M631.1 1343.0V1265.5M650.0 1343.0V1281.2M664.7 1343.0V1303.6M683.2 1343.0V1303.6M698.3 1343.0V1298.9M713.6 1343.0V1321.9M731.9 1343.0V1292.6M746.7 1343.0V1061.1M765.6 1343.0V1270.2M780.3 1343.0V1260.8M799.2 1343.0V1291.6M814.5 1343.0V1338.0M829.5 1343.0V1333.3M846.4 1343.0V1322.4M862.3 1343.0V1337.5M879.9 1343.0V1335.4M896.4 1343.0V1340.6M912.8 1343.0V1337.5M929.3 1343.0V1340.6M945.7 1343.0V1330.2M962.2 1343.0V1335.4M995.1 1343.0V1334.4M1011.5 1343.0V1338.5M1028.0 1343.0V1330.2M1044.4 1343.0V1328.1M1060.9 1343.0V1332.3M1077.4 1343.0V1326.5M1093.8 1343.0V1317.2M1110.3 1343.0V1333.3M1126.7 1343.0V1341.1M1143.2 1343.0V1330.2M1176.1 1343.0V1342.2M1192.5 1343.0V1337.5M1209.0 1343.0V1330.2M1225.5 1343.0V1335.4M1241.9 1343.0V1337.5M1258.4 1343.0V1334.4M1274.8 1343.0V1326.5M1291.3 1343.0V1336.5M1324.2 1343.0V1334.4M1340.6 1343.0V1333.3M1373.5 1343.0V1312.5M1390.0 1343.0V1321.3M1406.5 1343.0V1326.5M1422.9 1343.0V1330.2M1439.4 1343.0V1337.5M1455.8 1343.0V1324.5M1472.3 1343.0V1334.4M1488.7 1343.0V1340.6M1521.6 1343.0V1340.6M1538.1 1343.0V1336.5M1571.0 1343.0V1340.6M1603.9 1343.0V1337.5M1620.4 1343.0V1336.5M1636.8 1343.0V1341.1M1669.7 1343.0V1340.6M1702.6 1343.0V1341.1M1719.1 1343.0V1331.2M1735.6 1343.0V1340.6M1784.9 1343.0V1341.1M1817.8 1343.0V1341.1" stroke="#0072bd" stroke-width="3.5" fill="none"/>
<line x1="367.0" y1="1343.0" x2="367.0" y2="1330.5" stroke="#202020" stroke-width="3.6"/>
<line x1="367.0" y1="825.1" x2="367.0" y2="837.6" stroke="#202020" stroke-width="3.6"/>
<line x1="534.4" y1="1343.0" x2="534.4" y2="1330.5" stroke="#202020" stroke-width="3.6"/>
<line x1="534.4" y1="825.1" x2="534.4" y2="837.6" stroke="#202020" stroke-width="3.6"/>
<line x1="698.5" y1="1343.0" x2="698.5" y2="1330.5" stroke="#202020" stroke-width="3.6"/>
<line x1="698.5" y1="825.1" x2="698.5" y2="837.6" stroke="#202020" stroke-width="3.6"/>
<line x1="862.4" y1="1343.0" x2="862.4" y2="1330.5" stroke="#202020" stroke-width="3.6"/>
<line x1="862.4" y1="825.1" x2="862.4" y2="837.6" stroke="#202020" stroke-width="3.6"/>
<line x1="1027.5" y1="1343.0" x2="1027.5" y2="1330.5" stroke="#202020" stroke-width="3.6"/>
<line x1="1027.5" y1="825.1" x2="1027.5" y2="837.6" stroke="#202020" stroke-width="3.6"/>
<line x1="1192.0" y1="1343.0" x2="1192.0" y2="1330.5" stroke="#202020" stroke-width="3.6"/>
<line x1="1192.0" y1="825.1" x2="1192.0" y2="837.6" stroke="#202020" stroke-width="3.6"/>
<line x1="1356.5" y1="1343.0" x2="1356.5" y2="1330.5" stroke="#202020" stroke-width="3.6"/>
<line x1="1356.5" y1="825.1" x2="1356.5" y2="837.6" stroke="#202020" stroke-width="3.6"/>
<line x1="1521.6" y1="1343.0" x2="1521.6" y2="1330.5" stroke="#202020" stroke-width="3.6"/>
<line x1="1521.6" y1="825.1" x2="1521.6" y2="837.6" stroke="#202020" stroke-width="3.6"/>
<line x1="1689.0" y1="1343.0" x2="1689.0" y2="1330.5" stroke="#202020" stroke-width="3.6"/>
<line x1="1689.0" y1="825.1" x2="1689.0" y2="837.6" stroke="#202020" stroke-width="3.6"/>
<line x1="223.7" y1="1083.8" x2="236.2" y2="1083.8" stroke="#202020" stroke-width="3.6"/>
<line x1="1832.7" y1="1083.8" x2="1820.2" y2="1083.8" stroke="#202020" stroke-width="3.6"/>
<text x="706.40" y="56.10" font-size="47.67" font-weight="bold" fill="#000000" style="font-family:'Liberation Sans',Arial,Helvetica,sans-serif" stroke="#ffffff" stroke-width="1.3" textLength="639.30" lengthAdjust="spacingAndGlyphs">Signal after conv4 filter 110</text>
<text x="501.78" y="668.38" font-size="46.66" font-weight="normal" fill="#262626" style="font-family:'Liberation Sans',Arial,Helvetica,sans-serif" stroke="#ffffff" stroke-width="0.8" textLength="52.02" lengthAdjust="spacingAndGlyphs">50</text>
<text x="809.36" y="668.38" font-size="47.91" font-weight="normal" fill="#262626" style="font-family:'Liberation Sans',Arial,Helvetica,sans-serif" stroke="#ffffff" stroke-width="0.8" textLength="70.81" lengthAdjust="spacingAndGlyphs">100</text>
<text x="1129.48" y="669.12" font-size="47.01" font-weight="normal" fill="#262626" style="font-family:'Liberation Sans',Arial,Helvetica,sans-serif" stroke="#ffffff" stroke-width="0.8" textLength="71.67" lengthAdjust="spacingAndGlyphs">150</text>
<text x="1443.22" y="668.50" font-size="47.50" font-weight="normal" fill="#262626" style="font-family:'Liberation Sans',Arial,Helvetica,sans-serif" stroke="#ffffff" stroke-width="0.8" textLength="74.87" lengthAdjust="spacingAndGlyphs">200</text>
<text x="1760.16" y="668.50" font-size="47.50" font-weight="normal" fill="#262626" style="font-family:'Liberation Sans',Arial,Helvetica,sans-serif" stroke="#ffffff" stroke-width="0.8" textLength="74.43" lengthAdjust="spacingAndGlyphs">250</text>
<text x="150.60" y="113.38" font-size="48.42" font-weight="normal" fill="#262626" style="font-family:'Liberation Sans',Arial,Helvetica,sans-serif" stroke="#ffffff" stroke-width="0.8" textLength="51.70" lengthAdjust="spacingAndGlyphs">20</text>
<text x="153.92" y="228.56" font-size="45.81" font-weight="normal" fill="#262626" style="font-family:'Liberation Sans',Arial,Helvetica,sans-serif" stroke="#ffffff" stroke-width="0.8" textLength="49.03" lengthAdjust="spacingAndGlyphs">10</text>
<text x="177.90" y="344.00" font-size="47.04" font-weight="normal" fill="#262626" style="font-family:'Liberation Sans',Arial,Helvetica,sans-serif" stroke="#ffffff" stroke-width="0.8" textLength="25.03" lengthAdjust="spacingAndGlyphs">0</text>
<text x="136.40" y="459.50" font-size="45.81" font-weight="normal" fill="#262626" style="font-family:'Liberation Sans',Arial,Helvetica,sans-serif" stroke="#ffffff" stroke-width="0.8" textLength="66.24" lengthAdjust="spacingAndGlyphs">-10</text>
<text x="136.40" y="575.50" font-size="47.50" font-weight="normal" fill="#262626" style="font-family:'Liberation Sans',Arial,Helvetica,sans-serif" stroke="#ffffff" stroke-width="0.8" textLength="65.71" lengthAdjust="spacingAndGlyphs">-20</text>
<text x="874.70" y="731.60" font-size="50.96" font-weight="normal" fill="#262626" style="font-family:'Liberation Sans',Arial,Helvetica,sans-serif" stroke="#ffffff" stroke-width="0.8" textLength="309.55" lengthAdjust="spacingAndGlyphs">Time [sample]</text>
<text x="119.06" y="452.44" font-size="51.75" font-weight="normal" fill="#262626" style="font-family:'Liberation Sans',Arial,Helvetica,sans-serif" stroke="#ffffff" stroke-width="0.8" textLength="221.25" lengthAdjust="spacingAndGlyphs" transform="rotate(-90 119.06 452.44)">Amplitude</text>
<text x="343.30" y="1410.00" font-size="47.50" font-weight="normal" fill="#262626" style="font-family:'Liberation Sans',Arial,Helvetica,sans-serif" stroke="#ffffff" stroke-width="0.8" textLength="50.29" lengthAdjust="spacingAndGlyphs">10</text>
<text x="505.34" y="1410.00" font-size="47.50" font-weight="normal" fill="#262626" style="font-family:'Liberation Sans',Arial,Helvetica,sans-serif" stroke="#ffffff" stroke-width="0.8" textLength="52.05" lengthAdjust="spacingAndGlyphs">20</text>
<text x="669.46" y="1410.00" font-size="47.50" font-weight="normal" fill="#262626" style="font-family:'Liberation Sans',Arial,Helvetica,sans-serif" stroke="#ffffff" stroke-width="0.8" textLength="51.96" lengthAdjust="spacingAndGlyphs">30</text>
<text x="839.20" y="1410.12" font-size="47.97" font-weight="normal" fill="#262626" style="font-family:'Liberation Sans',Arial,Helvetica,sans-serif" stroke="#ffffff" stroke-width="0.8" textLength="49.59" lengthAdjust="spacingAndGlyphs">40</text>
<text x="1001.34" y="1410.12" font-size="47.97" font-weight="normal" fill="#262626" style="font-family:'Liberation Sans',Arial,Helvetica,sans-serif" stroke="#ffffff" stroke-width="0.8" textLength="50.50" lengthAdjust="spacingAndGlyphs">50</text>
<text x="1164.28" y="1410.12" font-size="47.97" font-weight="normal" fill="#262626" style="font-family:'Liberation Sans',Arial,Helvetica,sans-serif" stroke="#ffffff" stroke-width="0.8" textLength="52.49" lengthAdjust="spacingAndGlyphs">60</text>
<text x="1331.10" y="1410.06" font-size="47.91" font-weight="normal" fill="#262626" style="font-family:'Liberation Sans',Arial,Helvetica,sans-serif" stroke="#ffffff" stroke-width="0.8" textLength="52.11" lengthAdjust="spacingAndGlyphs">70</text>
<text x="1496.22" y="1410.06" font-size="47.91" font-weight="normal" fill="#262626" style="font-family:'Liberation Sans',Arial,Helvetica,sans-serif" stroke="#ffffff" stroke-width="0.8" textLength="51.66" lengthAdjust="spacingAndGlyphs">80</text>
<text x="1659.90" y="1408.88" font-size="47.52" font-weight="normal" fill="#262626" style="font-family:'Liberation Sans',Arial,Helvetica,sans-serif" stroke="#ffffff" stroke-width="0.8" textLength="52.56" lengthAdjust="spacingAndGlyphs">90</text>
<text x="104.86" y="840.06" font-size="46.60" font-weight="normal" fill="#262626" style="font-family:'Liberation Sans',Arial,Helvetica,sans-serif" stroke="#ffffff" stroke-width="0.8" textLength="97.84" lengthAdjust="spacingAndGlyphs">1000</text>
<text x="125.34" y="1104.56" font-size="47.07" font-weight="normal" fill="#262626" style="font-family:'Liberation Sans',Arial,Helvetica,sans-serif" stroke="#ffffff" stroke-width="0.8" textLength="73.88" lengthAdjust="spacingAndGlyphs">500</text>
<text x="177.52" y="1364.56" font-size="46.12" font-weight="normal" fill="#262626" style="font-family:'Liberation Sans',Arial,Helvetica,sans-serif" stroke="#ffffff" stroke-width="0.8" textLength="25.36" lengthAdjust="spacingAndGlyphs">0</text>
<text x="859.56" y="1473.34" font-size="49.49" font-weight="normal" fill="#262626" style="font-family:'Liberation Sans',Arial,Helvetica,sans-serif" stroke="#ffffff" stroke-width="0.8" textLength="335.16" lengthAdjust="spacingAndGlyphs">Frequency [Hz]</text>
<text x="85.74" y="1193.56" font-size="50.35" font-weight="normal" fill="#262626" style="font-family:'Liberation Sans',Arial,Helvetica,sans-serif" stroke="#ffffff" stroke-width="0.8" textLength="221.24" lengthAdjust="spacingAndGlyphs" transform="rotate(-90 85.74 1193.56)">Amplitude</text>
</svg>
</body></html>
